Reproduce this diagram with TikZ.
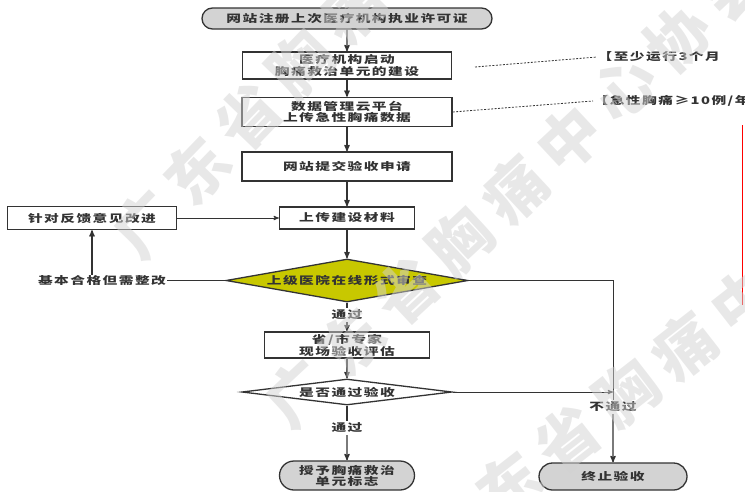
\documentclass[tikz,border=0pt]{standalone}
\usepackage{fontspec}
\setmainfont{Noto Sans CJK SC}[FakeStretch=1.4,LetterSpace=14]
\newfontfamily\wmfont{Noto Sans CJK SC}[LetterSpace=20]
\usetikzlibrary{shapes}
\usetikzlibrary{arrows}
\definecolor{fillgray}{HTML}{D3D3D3}
\definecolor{reviewyellow}{HTML}{C8C800}
\definecolor{linegray}{HTML}{333333}
\tikzset{
	flownode/.style = {align=center, inner sep=0pt, text centered, text=linegray,
		font=\fontsize{10.5}{10}\selectfont\bfseries},
	fl_box/.style = {flownode, rectangle, draw=linegray, fill=white},% etape
	fl_end/.style = {flownode, rounded rectangle, draw=linegray, fill=fillgray},% debut, fin
	fl_dec/.style = {flownode, diamond, draw=linegray},% decision
	fl_lab/.style = {flownode, fill=white, inner sep=1.5pt},% texte sur la fleche
	fl_note/.style = {flownode, anchor=west},% remarque a droite
	watermark/.style = {font=\wmfont\fontsize{62}{62}\selectfont\bfseries,
		text=gray!35, opacity=0.5}% filigrane
}

\begin{document}
\begin{tikzpicture}[->,>=stealth',x=1pt,y=-1pt,line width=1.3pt,color=linegray]
	\useasboundingbox (0,0) rectangle (745,491);
	\node [fl_end, minimum width=290, minimum height=21] (start) at (347,18.5) {网站注册上次医疗机构执业许可证};
	\node [fl_box, minimum width=209, minimum height=27] (build) at (347,65.5) {医疗机构启动\\胸痛救治单元的建设};
	\node [fl_box, minimum width=210, minimum height=29] (cloud) at (347,112) {数据管理云平台\\上传急性胸痛数据};
	\node [fl_box, minimum width=210, minimum height=29] (apply) at (347,166.5) {网站提交验收申请};
	\node [fl_box, minimum width=135, minimum height=22] (material) at (347,218) {上传建设材料};
	\node [fl_box, minimum width=169, minimum height=23] (improve) at (92,218) {针对反馈意见改进};
	\node [fl_dec, fill=reviewyellow, aspect=5.6, minimum width=242, minimum height=43] (review) at (347,280.5) {上级医院在线形式审查};
	\node [flownode] (redo) at (102,280.5) {基本合格但需整改};
	\node [fl_lab] (pass1) at (347,315) {通过};
	\node [fl_box, minimum width=165, minimum height=26] (expert) at (347,345) {省/市专家\\现场验收评估};
	\node [fl_dec, fill=white, aspect=8, minimum width=210, minimum height=26] (check) at (347,392) {是否通过验收};
	\node [fl_lab] (pass2) at (347,428) {通过};
	\node [fl_lab] (nopass) at (613,407) {不通过};
	\node [fl_end, minimum width=135, minimum height=29] (grant) at (347,475.5) {授予胸痛救治\\单元标志};
	\node [fl_end, minimum width=148, minimum height=27] (stop) at (613,476.5) {终止验收};
	\node [fl_note] (note1) at (597,57) {【至少运行3个月};
	\node [fl_note] (note2) at (593,101) {【急性胸痛≥10例/年};
	\coordinate (gap1) at (475,67);
	% fleches principales
	\draw (start) -- (build);
	\draw (build) -- (cloud);
	\draw (cloud) -- (apply);
	\draw (apply) -- (material);
	\draw (material) -- (review);
	\draw[-] (review) -- (pass1);
	\draw (pass1) -- (expert);
	\draw (expert) -- (check);
	\draw[-] (check) -- (pass2);
	\draw (pass2) -- (grant);
	% retour et refus
	\draw[-, line width=0.9pt] (review.west) -- (redo.east);
	\draw (redo.north -| improve) -- (improve);
	\draw[line width=0.9pt] (improve) -- (material);
	\draw[-, line width=0.9pt] (review.east) -| (nopass);
	\draw (nopass) -- (stop);
	\draw[line width=0.9pt] (check.east) -- (check.east -| nopass);
	% remarques
	\draw[-, line width=0.8pt, dash pattern=on 2pt off 1.5pt] (gap1) -- (note1.west);
	\draw[-, line width=0.8pt, dash pattern=on 2pt off 1.5pt] (cloud.east) -- (note2.west);
	\draw[-, draw=red, line width=1.4pt] (742.5,125) -- (742.5,305);
	% filigrane
	\node [watermark, rotate=46] (wm1) at (352,10) {广东省胸痛中心协会};
	\node [watermark, rotate=43] (wm2) at (515,190) {广东省胸痛中心协会};
	\node [watermark, rotate=38] (wm3) at (685,347) {广东省胸痛中心协会};
\end{tikzpicture}
\end{document}
